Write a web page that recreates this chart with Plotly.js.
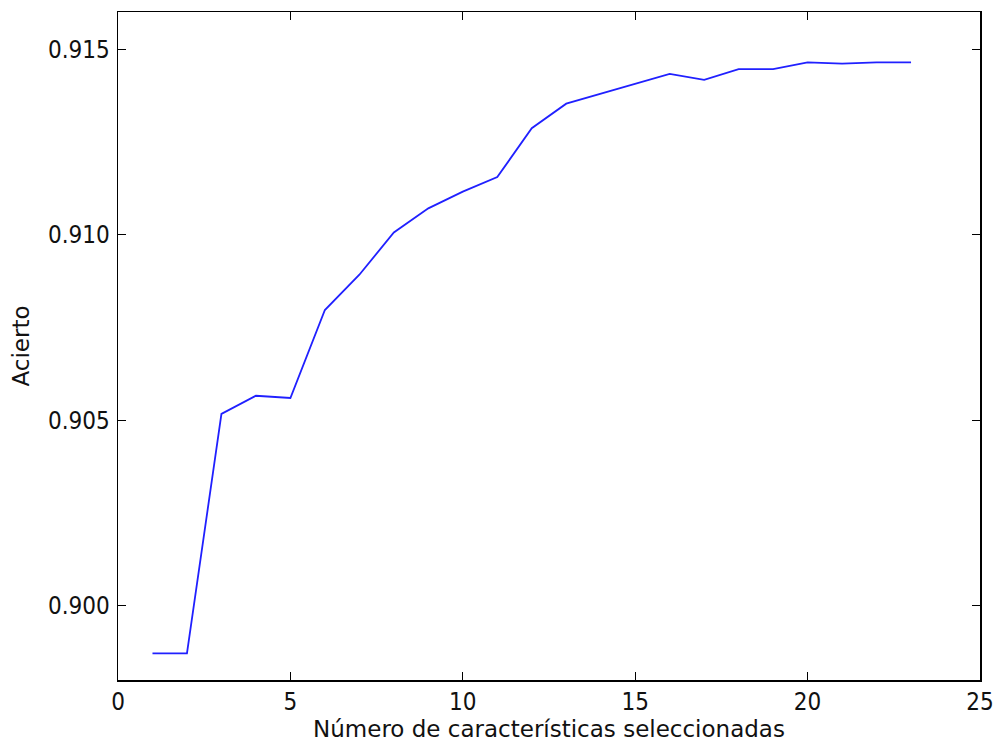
<!DOCTYPE html>
<html>
<head>
<meta charset="utf-8">
<script src="https://cdn.plot.ly/plotly-3.0.1.min.js"></script>
<style>body{margin:0;padding:0;background:#fff;} #chart{width:999px;height:749px;}</style>
</head>
<body>
<div id="chart"></div>
<script>
const numFeatures = [1,2,3,4,5,6,7,8,9,10,11,12,13,14,15,16,17,18,19,20,21,22,23];
const accuracy = [0.89872,0.89872,0.90517,0.90566,0.90560,0.90797,0.90892,0.91006,0.91071,0.91116,0.91155,0.91287,0.91353,0.91379,0.91406,0.91433,0.91417,0.91446,0.91446,0.91464,0.91461,0.91464,0.91464];
const xTicks = [0,5,10,15,20,25];
const yTicks = [0.900,0.905,0.910,0.915];
const yTickText = ['0.900','0.905','0.910','0.915'];

const tickFont = {family: 'DejaVu Sans Condensed, DejaVu Sans', size: 24, color: '#111'};
const titleFont = {family: 'DejaVu Sans', size: 23, color: '#111'};
const trace = {
  x: numFeatures, y: accuracy, type: 'scatter', mode: 'lines',
  line: {color: '#2020ff', width: 1.8}, hoverinfo: 'skip'
};
const layout = {
  width: 999, height: 749,
  margin: {l: 118, r: 19, t: 12, b: 69},
  paper_bgcolor: '#fff', plot_bgcolor: '#fff',
  showlegend: false,
  font: titleFont,
  xaxis: {
    range: [0, 25], tickvals: xTicks, ticktext: xTicks.map(String),
    ticks: 'inside', ticklen: 8, tickwidth: 1, tickcolor: '#000',
    showline: true, linecolor: '#000', linewidth: 1.5, mirror: 'ticks',
    showgrid: false, zeroline: false, tickfont: tickFont, ticklabelstandoff: 0,
    title: {text: 'Número de características seleccionadas', font: titleFont, standoff: 4}
  },
  yaxis: {
    range: [0.898, 0.916], tickvals: yTicks, ticktext: yTickText,
    ticks: 'inside', ticklen: 8, tickwidth: 1, tickcolor: '#000',
    showline: true, linecolor: '#000', linewidth: 1.5, mirror: 'ticks',
    showgrid: false, zeroline: false, tickfont: tickFont, ticklabelstandoff: 2,
    title: {text: 'Acierto', font: titleFont, standoff: 12}
  }
};
Plotly.newPlot('chart', [trace], layout, {staticPlot: true});
</script>
</body>
</html>
